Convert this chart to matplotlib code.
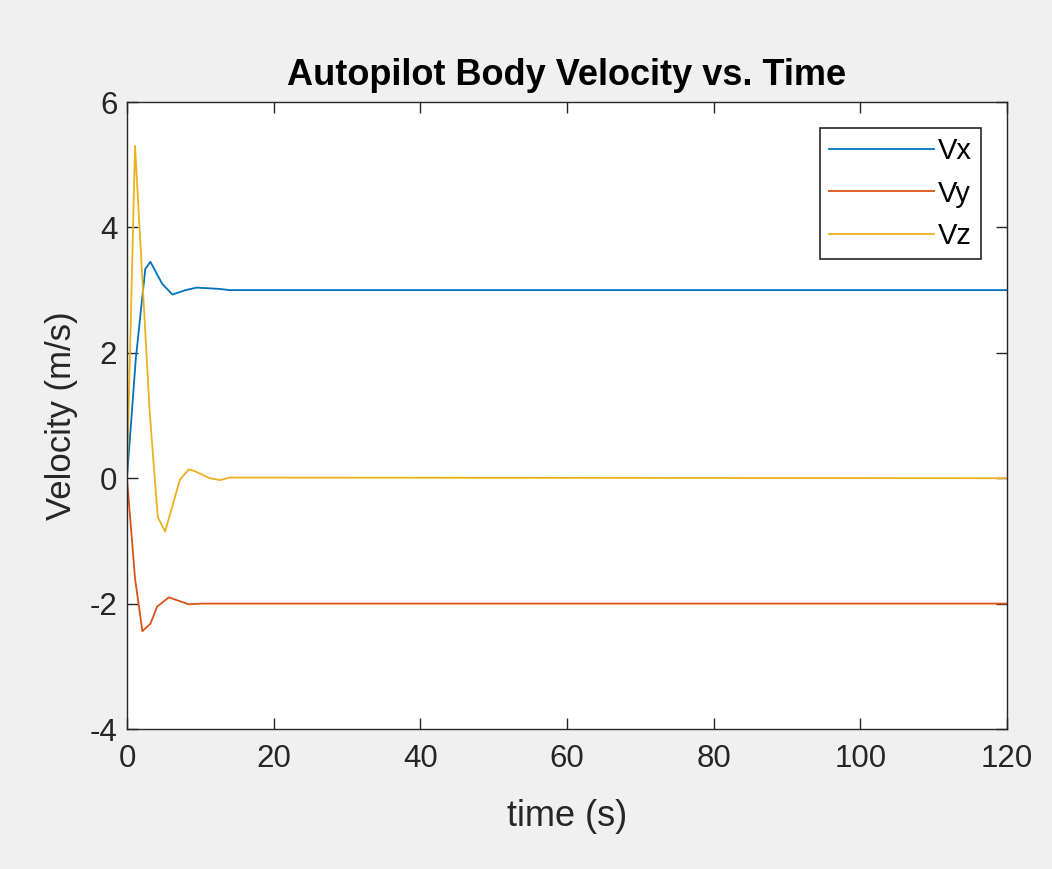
import matplotlib
matplotlib.use('Agg')
import matplotlib.pyplot as plt
import numpy as np

# sample points (time in s, velocity in m/s)
t_vx = [0, 1.2, 2.5, 3.2, 4.8, 6.2, 8.0, 9.5, 11.0, 12.5, 14.0, 120]
vx = [0, 1.9, 3.34, 3.45, 3.1, 2.93, 3.0, 3.04, 3.03, 3.02, 3.0, 3.0]

t_vy = [0, 1.1, 2.1, 3.2, 4.1, 5.7, 8.4, 10.2, 120]
vy = [0, -1.6, -2.44, -2.32, -2.05, -1.9, -2.01, -2.0, -2.0]

t_vz = [0, 1.1, 3.1, 4.2, 5.2, 7.2, 8.4, 9.1, 11.3, 12.7, 14.0, 120]
vz = [0, 5.3, 1.05, -0.62, -0.85, -0.03, 0.14, 0.12, 0.0, -0.03, 0.01, 0.0]

labels = ['Vx', 'Vy', 'Vz']
colors = ['#0072BD', '#D95319', '#EDB120']

plt.rcParams['font.family'] = ['Liberation Sans', 'DejaVu Sans']
plt.rcParams['axes.unicode_minus'] = False

fig = plt.figure(figsize=(10.52, 8.69), dpi=100)
fig.patch.set_facecolor('#f0f0f0')
ax = fig.add_axes([0.1207, 0.1611, 0.8365, 0.7215])

for t, v, lab, c in zip([t_vx, t_vy, t_vz], [vx, vy, vz], labels, colors):
    ax.plot(t, v, color=c, lw=1.3, label=lab)

ax.set_xlim(0, 120)
ax.set_ylim(-4, 6)
ax.set_xticks(np.arange(0, 121, 20))
ax.set_yticks(np.arange(-4, 7, 2))

dark = '#262626'
for s in ax.spines.values():
    s.set_color(dark)
    s.set_linewidth(1.0)
ax.tick_params(direction='in', length=8, width=1.0, colors=dark,
               labelsize=22.5, top=True, right=True)
ax.tick_params(axis='x', pad=11)
ax.tick_params(axis='y', pad=7)

ax.set_xlabel('time (s)', fontsize=26, color=dark, labelpad=18)
ax.set_ylabel('Velocity (m/s)', fontsize=25, color=dark, labelpad=8)
ax.set_title('Autopilot Body Velocity vs. Time', fontsize=26,
             fontweight='bold', color='black', pad=12)

leg = ax.legend(loc='upper right', fontsize=21, fancybox=False,
                framealpha=1, edgecolor=dark, handlelength=3.6,
                handletextpad=0.15, borderaxespad=0.9, labelspacing=0.5,
                borderpad=0.3)
leg.get_frame().set_linewidth(1.2)

fig.savefig('out.png', dpi=100, facecolor=fig.get_facecolor())
